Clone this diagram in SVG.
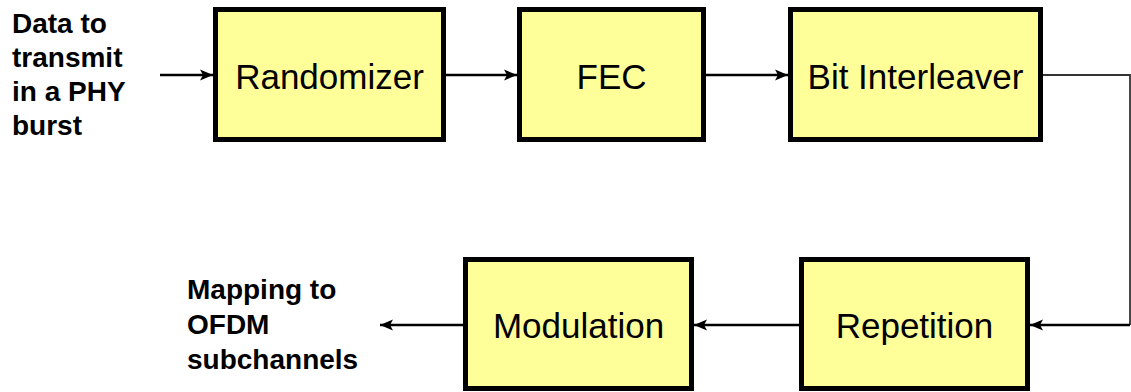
<svg xmlns="http://www.w3.org/2000/svg" width="1131" height="392" viewBox="0 0 1131 392">
<style>
.box{fill:#FFFF99;stroke:#000;stroke-width:5}
.lbl{font-family:"Liberation Sans",Arial,sans-serif;font-size:35px;fill:#000;text-anchor:middle}
.side{font-family:"Liberation Sans",Arial,sans-serif;font-size:28px;font-weight:bold;fill:#000}
.conn{fill:none;stroke:#000;stroke-width:2.5}
.thin{fill:none;stroke:#333;stroke-width:1.8}
</style>
<defs>
<marker id="ah" markerUnits="userSpaceOnUse" markerWidth="14" markerHeight="12" viewBox="0 0 14 12" refX="13" refY="6" orient="auto">
<path d="M0,0.5 L13,6 L0,11.5 L3,6 Z" fill="#000"/>
</marker>
</defs>
<rect width="1131" height="392" fill="#fff"/>
<g id="connectors">
<line class="conn" x1="160" y1="75" x2="213" y2="75" marker-end="url(#ah)"/>
<line class="conn" x1="446" y1="75" x2="517" y2="75" marker-end="url(#ah)"/>
<line class="conn" x1="706" y1="75" x2="788" y2="75" marker-end="url(#ah)"/>
<path class="thin" d="M1043,75 H1130 V325"/>
<line class="conn" x1="1130" y1="325" x2="1030" y2="325" marker-end="url(#ah)"/>
<line class="conn" x1="799" y1="325" x2="694" y2="325" marker-end="url(#ah)"/>
<line class="conn" x1="463" y1="325" x2="380" y2="325" marker-end="url(#ah)"/>
</g>
<g id="input">
<text class="side" x="12" y="33">Data to</text>
<text class="side" x="12" y="67">transmit</text>
<text class="side" x="12" y="101">in a PHY</text>
<text class="side" x="12" y="135">burst</text>
</g>
<g id="randomizer">
<rect class="box" x="215.5" y="9.5" width="228" height="130"/>
<text class="lbl" x="329.5" y="88.5">Randomizer</text>
</g>
<g id="fec">
<rect class="box" x="519.5" y="9.5" width="184" height="130"/>
<text class="lbl" x="611.5" y="88.5">FEC</text>
</g>
<g id="interleaver">
<rect class="box" x="790.5" y="9.5" width="250" height="130"/>
<text class="lbl" x="915.5" y="88.5">Bit Interleaver</text>
</g>
<g id="repetition">
<rect class="box" x="801.5" y="259.5" width="226" height="129"/>
<text class="lbl" x="914.5" y="337.5">Repetition</text>
</g>
<g id="modulation">
<rect class="box" x="465.5" y="259.5" width="226" height="129"/>
<text class="lbl" x="578.5" y="337.5">Modulation</text>
</g>
<g id="output">
<text class="side" x="187" y="299">Mapping to</text>
<text class="side" x="187" y="334">OFDM</text>
<text class="side" x="187" y="369">subchannels</text>
</g>
</svg>
